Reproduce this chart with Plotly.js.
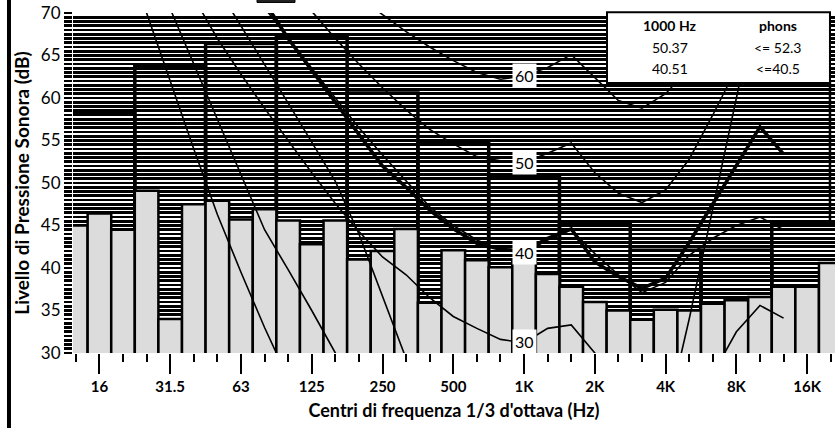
<!DOCTYPE html>
<html><head><meta charset="utf-8">
<script src="https://cdn.plot.ly/plotly-3.0.1.min.js"></script>
<style>html,body{margin:0;padding:0;background:#fff}#c{width:835px;height:428px}</style>
</head><body><div id="c"></div>
<script>
// 1/3 octave band centres (index 0 = 12.5 Hz ... 32 = 20 kHz)
const bands = ["12.5","16","20","25","31.5","40","50","63","80","100","125","160","200","250","315","400","500","630","800","1K","1.25K","1.6K","2K","2.5K","3.15K","4K","5K","6.3K","8K","10K","12.5K","16K","20K"];
const bandIdx = bands.map((b,i)=>i);
// measured 1/3 octave levels (dB)
const thirdLevels = [45.0,46.4,44.5,49.1,34.0,47.5,47.9,45.7,46.9,45.6,42.8,45.6,41.0,42.0,44.6,35.9,42.1,40.9,40.1,40.7,39.3,37.8,36.0,35.0,33.9,35.1,35.0,35.8,36.2,36.6,37.8,37.8,40.6];
// octave band levels (dB)
const octaveLabels = ["16","31.5","63","125","250","500","1K","2K","4K","8K","16K"];
const octaveIdx = [1,4,7,10,13,16,19,22,25,28,31];
const octaveLevels = [58.2,63.8,66.4,67.3,60.6,54.7,50.7,45.3,42.1,42.1,45.3];
// curves (dB at band index; null = not drawn)
const N = null;
const curveA = [N,N,78,70,62,54,46.3,39.5,33,27,N,N,N,N,N,N,N,N,N,N,N,N,N,N,N,N,N,N,N,N,N,N,N];
const curveB = [N,N,N,77,70.5,64,57.5,51,44.5,39.8,35,30,25,N,N,N,N,N,N,N,N,N,N,N,N,N,N,N,N,N,N,N,N];
const curveC = [N,N,N,N,N,N,73,68.5,63.9,59.4,54.8,50.2,44,36.8,29.6,22,N,N,N,N,N,N,N,N,N,22,34,47,60,73,N,N,N];
const curve30 = [N,N,N,N,N,71.8,67,62.8,58.8,55,51.2,47.6,44.3,41.3,39.2,36.5,34.3,32.9,31.6,31.2,32.9,33.3,30,27.5,25.5,25,26,27.5,32.5,35.6,34.1,N,N];
const curve40 = [N,N,N,N,N,N,N,N,70.6,67,63.5,60,56.5,53.3,50.2,47.2,45,43.3,42.1,41.8,43.3,44.5,41.7,39.2,37.1,38.3,41.5,43.5,45,46,44.5,N,N];
const curve50 = [N,N,N,N,N,N,N,N,N,N,70.2,67,64,61.2,58.6,56.3,54.6,53.1,52.6,52.4,53.5,54.7,51.2,48.8,47.7,49.2,52.8,58,63.5,69,74,N,N];
const curve60 = [N,N,N,N,N,N,N,N,N,N,N,N,72,69.8,67.8,66,64.4,63,62.2,62.6,63.6,65.1,62.4,59.7,58.8,60.5,63.5,67,71,N,N,N,N];
const curveThick = [N,N,N,N,N,N,N,75,71.3,67,63.3,59.5,55.7,52,49.5,46.8,44.6,42.9,42.2,42,43.5,44.6,40.7,39,37.6,38.8,43,47.5,52,56.6,53.4,N,N];
const contourLabels = ["30","40","50","60"];
const contourLabelY = [31.3,41.8,52.4,62.7];
// summary box
const boxHead = ["1000 Hz","phons"];
const boxRow1 = ["50.37","<= 52.3"];
const boxRow2 = ["40.51","<=40.5"];

const F = "Lato, 'Open Sans', sans-serif";
const traces = [];
traces.push({type:'bar', x:octaveIdx, y:octaveLevels, width:3, marker:{color:'rgba(0,0,0,0)', line:{color:'#000', width:3.5}}, hoverinfo:'skip'});
traces.push({type:'bar', x:bandIdx, y:thirdLevels, width:1, marker:{color:'#dcdcdc', line:{color:'#000', width:2.5}}, hoverinfo:'skip'});
[curveA,curveB,curveC,curve30,curve40,curve50,curve60].forEach(c=>{
  traces.push({type:'scatter', mode:'lines', x:bandIdx, y:c, line:{color:'#000', width:1.6}, connectgaps:false, hoverinfo:'skip'});
});
traces.push({type:'scatter', mode:'lines', x:bandIdx, y:curveThick, line:{color:'#000', width:3.5}, connectgaps:false, hoverinfo:'skip'});

const shapes = [];
bandIdx.forEach(i=>shapes.push({type:'line', layer:'between', xref:'x', yref:'paper', x0:i, x1:i, y0:0, y1:1, line:{color:'#fff', width:2.2}}));
// blank strip at far right above the 16K octave step
shapes.push({type:'rect', layer:'between', xref:'paper', yref:'y', x0:0.9934, x1:1.01, y0:45.3, y1:70.5, fillcolor:'#fff', line:{width:0}});
shapes.push({type:'line', layer:'above', xref:'paper', yref:'y', x0:0.9934, x1:0.9934, y0:45.3, y1:62, line:{color:'#000', width:2.5}});
shapes.push({type:'rect', layer:'above', xref:'paper', yref:'paper', x0:0.7008, x1:0.9934, y0:0.794, y1:1.002, fillcolor:'#fff', line:{color:'#000', width:2}});
shapes.push({type:'line', layer:'above', xref:'paper', yref:'paper', x0:-0.084, x1:-0.084, y0:-0.23, y1:1.04, line:{color:'#000', width:4}});
shapes.push({type:'rect', layer:'above', xref:'paper', yref:'paper', x0:0.2415, x1:0.2913, y0:1.031, y1:1.04, fillcolor:'#222', line:{color:'#000', width:1}});

const ann = [];
contourLabels.forEach((t,k)=>ann.push({x:19, y:contourLabelY[k], xref:'x', yref:'y', xanchor:'center', yanchor:'middle', text:t, showarrow:false, bgcolor:'#fff', font:{family:F, size:16, color:'#000'}, borderpad:2}));
const colX = [0.7835, 0.925];
const rowY = [0.962, 0.898, 0.836];
[boxHead, boxRow1, boxRow2].forEach((row,r)=>row.forEach((t,c)=>ann.push({x:colX[c], y:rowY[r], xref:'paper', yref:'paper', xanchor:'center', yanchor:'middle', text:t, showarrow:false, font:{family:F, size:14, color:'#000', weight: r===0?'bold':'normal'}})));

const layout = {
  width:835, height:428, margin:{l:73, r:0, t:13, b:75},
  paper_bgcolor:'#fff', plot_bgcolor:'#fff', showlegend:false, barmode:'overlay',
  xaxis:{range:[-0.12,32.18], tickmode:'array', tickvals:octaveIdx, ticktext:octaveLabels,
    ticks:'outside', ticklen:20, tickwidth:2, tickcolor:'#000', showgrid:false, zeroline:false, showline:false,
    tickfont:{family:F, size:15, color:'#000', weight:'bold'},
    minor:{tick0:0, dtick:1, ticks:'outside', ticklen:8, tickwidth:2, tickcolor:'#000', showgrid:false},
    title:{text:"Centri di frequenza 1/3 d'ottava (Hz)", font:{family:F, size:18, color:'#000', weight:'bold'}, standoff:10}},
  yaxis:{range:[30,70], tickmode:'linear', tick0:30, dtick:5, ticks:'outside', ticklen:8, tickwidth:2.7, tickcolor:'#000',
    showgrid:true, gridcolor:'#000', gridwidth:2.7, zeroline:false, showline:false,
    tickfont:{family:F, size:17, color:'#000'},
    minor:{dtick:0.5, ticks:'outside', ticklen:8, tickwidth:2.7, tickcolor:'#000', showgrid:true, gridcolor:'#000', gridwidth:2.7},
    title:{text:"Livello di Pressione Sonora (dB)", font:{family:F, size:19, color:'#000', weight:'bold'}, standoff:6}},
  shapes:shapes, annotations:ann
};
Plotly.newPlot('c', traces, layout, {staticPlot:true, displayModeBar:false});
</script></body></html>
